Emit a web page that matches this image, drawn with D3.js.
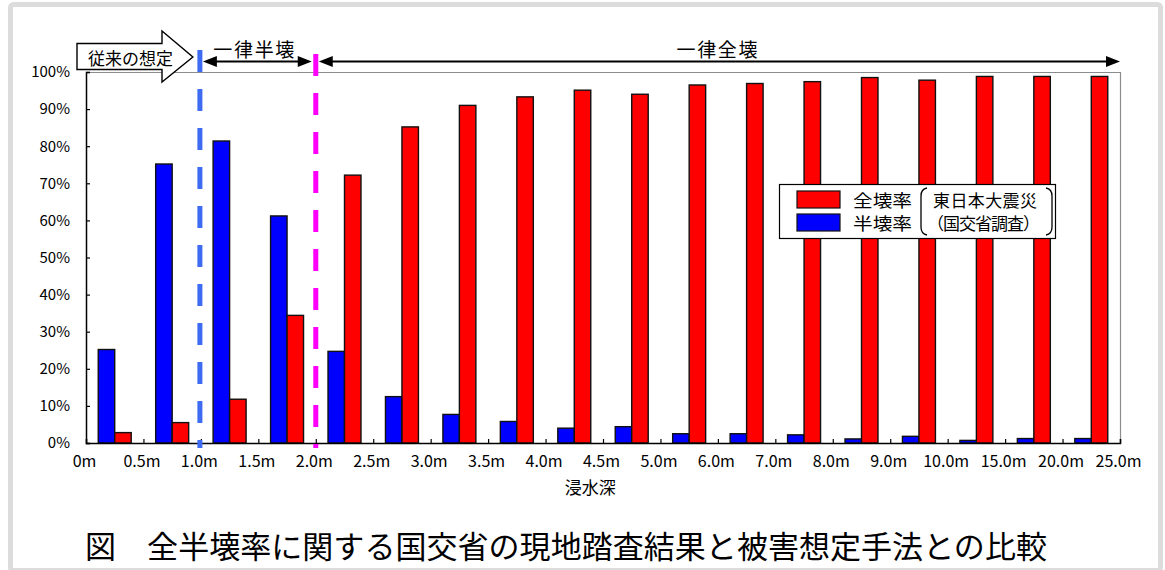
<!DOCTYPE html>
<html lang="ja">
<head>
<meta charset="utf-8">
<script src="https://cdn.jsdelivr.net/npm/d3@7"></script>
<style>
  html, body { margin: 0; padding: 0; background: #fff; }
  svg { display: block; }
  text { font-family: "Noto Sans CJK JP", "Noto Sans", sans-serif; fill: #000; }
</style>
</head>
<body>
<svg id="chart" width="1165" height="570"></svg>
<script>
// Tick labels at the bin boundaries of inundation depth
const tickLabels = ["0m", "0.5m", "1.0m", "1.5m", "2.0m", "2.5m", "3.0m", "3.5m", "4.0m",
  "4.5m", "5.0m", "6.0m", "7.0m", "8.0m", "9.0m", "10.0m", "15.0m", "20.0m", "25.0m"];

// Depth bins (between consecutive boundaries)
const categories = tickLabels.slice(0, -1).map((t, i) => t + "–" + tickLabels[i + 1]);

// 半壊率 (partially destroyed), %
const halfRate = [25.2, 75.2, 81.4, 61.2, 24.7, 12.5, 7.7, 5.8, 4.0, 4.4,
  2.5, 2.5, 2.2, 1.1, 1.8, 0.7, 1.2, 1.2];

// 全壊率 (totally destroyed), %
const fullRate = [2.8, 5.5, 11.8, 34.4, 72.2, 85.2, 91.0, 93.3, 95.1, 94.0,
  96.5, 96.9, 97.4, 98.5, 97.8, 98.8, 98.8, 98.8];

const yTicks = [0, 10, 20, 30, 40, 50, 60, 70, 80, 90, 100];
const seriesKeys = ["half", "full"];
const seriesColors = { half: "#0000ff", full: "#ff0000" };

const svg = d3.select("#chart");

// outer light frame
svg.append("rect")
  .attr("x", 10.5).attr("y", 4.5)
  .attr("width", 1150).attr("height", 566)
  .attr("rx", 3)
  .attr("fill", "none")
  .attr("stroke", "#dcdcdc")
  .attr("stroke-width", 5);

const plot = { left: 86, right: 1120, top: 72, bottom: 443 };

const x = d3.scaleBand()
  .domain(categories)
  .range([plot.left, plot.right])
  .padding(0);

const xInner = d3.scaleBand()
  .domain(seriesKeys)
  .range([x.bandwidth() * 0.213, x.bandwidth() * 0.787])
  .padding(0);

const y = d3.scaleLinear()
  .domain([0, 100])
  .range([plot.bottom, plot.top]);

// boundary position of tick label i
const xBoundary = i => i < categories.length ? x(categories[i]) : x(categories[categories.length - 1]) + x.bandwidth();

// plot frame (top / right)
svg.append("path")
  .attr("d", `M${plot.left},${plot.top + 0.5}H${plot.right + 0.5}V${plot.bottom}`)
  .attr("fill", "none")
  .attr("stroke", "#8c8c8c")
  .attr("stroke-width", 1.2);

// bars
const rows = categories.map((c, i) => ({ cat: c, half: halfRate[i], full: fullRate[i] }));
const groups = svg.append("g").selectAll("g")
  .data(rows)
  .join("g")
  .attr("transform", d => `translate(${x(d.cat)},0)`);

groups.selectAll("rect")
  .data(d => seriesKeys.map(k => ({ key: k, value: d[k] })))
  .join("rect")
  .attr("x", d => xInner(d.key))
  .attr("y", d => y(d.value))
  .attr("width", xInner.bandwidth())
  .attr("height", d => y(0) - y(d.value))
  .attr("fill", d => seriesColors[d.key])
  .attr("stroke", "#111")
  .attr("stroke-width", 1.4);

// y axis
const yAxis = d3.axisLeft(y)
  .tickValues(yTicks)
  .tickSize(-4)
  .tickPadding(16)
  .tickFormat(d => d + "%");
const gy = svg.append("g")
  .attr("transform", `translate(${plot.left},0)`)
  .call(yAxis);
gy.select(".domain").attr("stroke", "#000").attr("stroke-width", 1.5);
gy.selectAll(".tick line").attr("stroke", "#000").attr("stroke-width", 1.2);
gy.selectAll(".tick text")
  .attr("font-size", 15)
  .attr("font-family", "\"Noto Sans CJK JP\", sans-serif")
  .attr("fill", "#000");

// x axis with ticks at bin boundaries
const xb = d3.scaleLinear().domain([0, tickLabels.length - 1]).range([plot.left, plot.right]);
const xAxis = d3.axisBottom(xb)
  .tickValues(d3.range(tickLabels.length))
  .tickSize(-4)
  .tickPadding(13)
  .tickFormat(i => tickLabels[i]);
const gx = svg.append("g")
  .attr("transform", `translate(0,${plot.bottom})`)
  .call(xAxis);
gx.select(".domain").attr("stroke", "#000").attr("stroke-width", 1.5);
gx.selectAll(".tick line").attr("stroke", "#000").attr("stroke-width", 1.2);
gx.selectAll(".tick text")
  .attr("font-size", 16)
  .attr("dx", -2)
  .attr("font-family", "\"Noto Sans CJK JP\", sans-serif")
  .attr("fill", "#000");

// x axis title
svg.append("text")
  .attr("x", (xBoundary(8) + xBoundary(9)) / 2 + 16)
  .attr("y", 486)
  .attr("text-anchor", "middle")
  .attr("dominant-baseline", "central")
  .attr("font-size", 17)
  .text("浸水深");

// dashed boundary lines at 1.0m and 2.0m
const x10 = xBoundary(tickLabels.indexOf("1.0m")) - 1;
const x20 = xBoundary(tickLabels.indexOf("2.0m"));
svg.append("line")
  .attr("x1", x10).attr("x2", x10)
  .attr("y1", 50).attr("y2", 448)
  .attr("stroke", "#3d6cf2")
  .attr("stroke-width", 5)
  .attr("stroke-dasharray", "22,17");
svg.append("line")
  .attr("x1", x20).attr("x2", x20)
  .attr("y1", 54).attr("y2", 448)
  .attr("stroke", "#ff00ff")
  .attr("stroke-width", 5)
  .attr("stroke-dasharray", "22,17");

// double-headed range arrows
const arrowY = 61.5;
function rangeArrow(x1, x2) {
  const g = svg.append("g");
  const head = 14, half = 5.5;
  g.append("line")
    .attr("x1", x1 + head - 2).attr("x2", x2 - head + 2)
    .attr("y1", arrowY).attr("y2", arrowY)
    .attr("stroke", "#000").attr("stroke-width", 2.2);
  g.append("path")
    .attr("d", `M${x1},${arrowY}L${x1 + head},${arrowY - half}L${x1 + head},${arrowY + half}Z`)
    .attr("fill", "#000");
  g.append("path")
    .attr("d", `M${x2},${arrowY}L${x2 - head},${arrowY - half}L${x2 - head},${arrowY + half}Z`)
    .attr("fill", "#000");
}
rangeArrow(x10 + 3, x20 - 4);
rangeArrow(x20 + 3, plot.right);

svg.append("text")
  .attr("x", (x10 + x20) / 2 - 4)
  .attr("y", 48)
  .attr("text-anchor", "middle")
  .attr("dominant-baseline", "central")
  .attr("font-size", 19)
  .attr("textLength", 81)
  .text("一律半壊");

svg.append("text")
  .attr("x", 717)
  .attr("y", 48)
  .attr("text-anchor", "middle")
  .attr("dominant-baseline", "central")
  .attr("font-size", 19)
  .attr("textLength", 81)
  .text("一律全壊");

// block arrow "従来の想定"
const bx0 = 77, bx1 = 162, bTip = x10 - 7;
svg.append("path")
  .attr("d", `M${bx0},43.5H${bx1}V31L${bTip},57L${bx1},82V69.5H${bx0}Z`)
  .attr("fill", "#fff")
  .attr("stroke", "#000")
  .attr("stroke-width", 1.4)
  .attr("stroke-linejoin", "miter");
svg.append("text")
  .attr("x", 130.5)
  .attr("y", 57)
  .attr("text-anchor", "middle")
  .attr("dominant-baseline", "central")
  .attr("font-size", 17)
  .attr("textLength", 85)
  .text("従来の想定");

// legend
const lg = svg.append("g");
lg.append("rect")
  .attr("x", 779.5).attr("y", 184.5)
  .attr("width", 276).attr("height", 54)
  .attr("fill", "#fff")
  .attr("stroke", "#000")
  .attr("stroke-width", 1.2);
const legendItems = [
  { key: "full", label: "全壊率", cy: 199.5 },
  { key: "half", label: "半壊率", cy: 222.5 }
];
legendItems.forEach(it => {
  lg.append("rect")
    .attr("x", 797).attr("y", it.cy - 8.5)
    .attr("width", 43).attr("height", 17)
    .attr("fill", seriesColors[it.key])
    .attr("stroke", "#111").attr("stroke-width", 1.2);
  lg.append("text")
    .attr("x", 853).attr("y", it.cy)
    .attr("dominant-baseline", "central")
    .attr("font-size", 17)
    .attr("textLength", 59)
    .attr("lengthAdjust", "spacingAndGlyphs")
    .text(it.label);
});
// brackets around the source note
lg.append("path")
  .attr("d", "M927,188 Q921,189 921,196 V227 Q921,234 927,235")
  .attr("fill", "none").attr("stroke", "#000").attr("stroke-width", 1.3);
lg.append("path")
  .attr("d", "M1046,188 Q1052,189 1052,196 V227 Q1052,234 1046,235")
  .attr("fill", "none").attr("stroke", "#000").attr("stroke-width", 1.3);
lg.append("text")
  .attr("x", 985).attr("y", 199.5)
  .attr("text-anchor", "middle")
  .attr("dominant-baseline", "central")
  .attr("font-size", 17)
  .attr("textLength", 104)
  .text("東日本大震災");
lg.append("text")
  .attr("x", 983.5).attr("y", 222.5)
  .attr("text-anchor", "middle")
  .attr("dominant-baseline", "central")
  .attr("font-size", 17)
  .attr("textLength", 113)
  .text("（国交省調査）");

// caption
svg.append("text")
  .attr("x", 85)
  .attr("y", 544)
  .attr("dominant-baseline", "central")
  .attr("font-size", 31)
  .attr("textLength", 962)
  .attr("lengthAdjust", "spacingAndGlyphs")
  .text("図　全半壊率に関する国交省の現地踏査結果と被害想定手法との比較");
</script>
</body>
</html>
